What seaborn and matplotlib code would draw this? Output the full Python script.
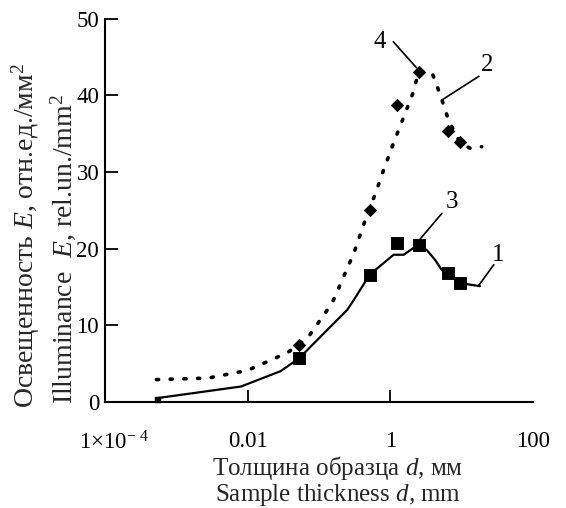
import pandas as pd
import seaborn as sns
import matplotlib.pyplot as plt
import matplotlib.transforms as mtransforms

sns.set_style('ticks')
plt.rcParams['font.family'] = ['Liberation Serif', 'DejaVu Serif']
plt.rcParams['mathtext.fontset'] = 'custom'
plt.rcParams['mathtext.rm'] = 'Liberation Serif'
plt.rcParams['mathtext.it'] = 'Liberation Serif:italic'

# curve 1 (solid) and its measured points 3 (squares)
x_curve1 = [5.6e-4, 8.1e-3, 0.029, 0.053, 0.131, 0.249, 0.308, 0.514, 1.11, 1.54, 1.9,
            2.48, 3.25, 4.25, 5.27, 6.52, 9.48, 18.0]
y_curve1 = [0.5, 2.0, 4.0, 5.7, 9.4, 12.0, 13.3, 16.6, 19.2, 19.2, 19.8,
            20.5, 19.8, 18.5, 17.2, 16.8, 15.5, 15.1]
x_sq = [0.053, 0.514, 1.24, 2.48, 6.52, 9.48]
y_sq = [5.7, 16.6, 20.7, 20.5, 16.8, 15.5]

# curve 2 (dotted) and its measured points 4 (diamonds)
x_curve2 = [5.3e-4, 2.8e-3, 0.01, 0.036, 0.069, 0.131, 0.16, 0.308, 0.448, 0.618, 0.807,
            1.11, 1.54, 2.11, 2.48, 3.82, 4.72, 5.27, 6.52, 9.48, 13.1, 19.0]
y_curve2 = [2.9, 3.1, 4.1, 6.4, 8.3, 12.0, 13.3, 19.4, 23.8, 27.2, 30.3,
            33.8, 37.2, 40.5, 43.1, 43.0, 40.7, 39.4, 36.8, 33.8, 33.1, 33.3]
x_dia = [0.053, 0.514, 1.24, 2.48, 6.52, 9.48]
y_dia = [7.4, 25.1, 38.8, 43.1, 35.3, 33.9]

x_ticks = [1e-4, 0.01, 1, 100]
x_ticklabels = ['1×10$^{-\\,\\,4}$', '0.01', '1', '100']
y_ticks = [0, 10, 20, 30, 40, 50]

fig = plt.figure(figsize=(5.66, 5.08), dpi=100)
ax = fig.add_axes([0.185, 0.209, 0.757, 0.754])
ax.set_xscale('log')

sns.lineplot(x=x_curve2, y=y_curve2, ax=ax, color='black', linestyle=(0, (0.6, 3.2)),
             linewidth=2.6, dash_capstyle='round', sort=False)
sns.lineplot(x=x_curve1, y=y_curve1, ax=ax, color='black', linewidth=1.6, sort=False)
sns.scatterplot(x=x_sq, y=y_sq, ax=ax, marker='s', s=68, color='black', edgecolor='black')
sns.scatterplot(x=x_dia, y=y_dia, ax=ax, marker='D', s=40, color='black', edgecolor='black')
sns.scatterplot(x=[x_curve1[0]], y=[0.3], ax=ax, marker='s', s=18, color='black',
                edgecolor='black', clip_on=False)

ax.set_xlim(1e-4, 100)
ax.set_ylim(0, 50)
ax.set_xticks(x_ticks)
ax.set_xticklabels(x_ticklabels)
ax.minorticks_off()
ax.set_yticks(y_ticks)
ax.tick_params(axis='both', direction='in', length=9, width=1.3, colors='black',
               labelsize=16.5)
ax.tick_params(axis='x', pad=21)
ax.tick_params(axis='y', pad=4)
xt = ax.xaxis.get_major_ticks()
xt[0].tick1line.set_visible(False)
xt[-1].tick1line.set_visible(False)
# the first label sits a bit right of the axis corner in the original
lab0 = ax.get_xticklabels()[0]
lab0.set_transform(lab0.get_transform() +
                   mtransforms.ScaledTranslation(7 / 72, 0, fig.dpi_scale_trans))
sns.despine(ax=ax)
for s in ['left', 'bottom']:
    ax.spines[s].set_linewidth(1.5)
    ax.spines[s].set_color('black')
ax.set_xlabel('')
ax.set_ylabel('')

# curve labels with leader lines
labels = [('4', (0.70, 47.0), (1.1, 47.0), (2.33, 43.6)),
          ('2', (22.3, 44.0), (17.4, 42.5), (5.27, 39.4)),
          ('3', (7.4, 26.1), (5.27, 24.6), (2.33, 20.7)),
          ('1', (32.6, 19.2), (28.1, 17.9), (17.0, 15.1))]
for txt, pos, p0, p1 in labels:
    ax.text(pos[0], pos[1], txt, fontsize=18, ha='center', va='center', color='black')
    ax.plot([p0[0], p1[0]], [p0[1], p1[1]], color='black', linewidth=1.2)

fig.text(0.597, 0.079, 'Толщина образца $d$, мм', fontsize=18, ha='center', va='center')
fig.text(0.597, 0.026, 'Sample thickness $d$, mm', fontsize=18, ha='center', va='center')
fig.text(0.045, 0.197, 'Освещенность $E$, отн.ед./мм$^2$', fontsize=20, rotation=90,
         ha='center', va='bottom')
fig.text(0.112, 0.205, 'Illuminance  $E$, rel.un./mm$^2$', fontsize=20, rotation=90,
         ha='center', va='bottom')

plt.savefig('out.png', dpi=100)
